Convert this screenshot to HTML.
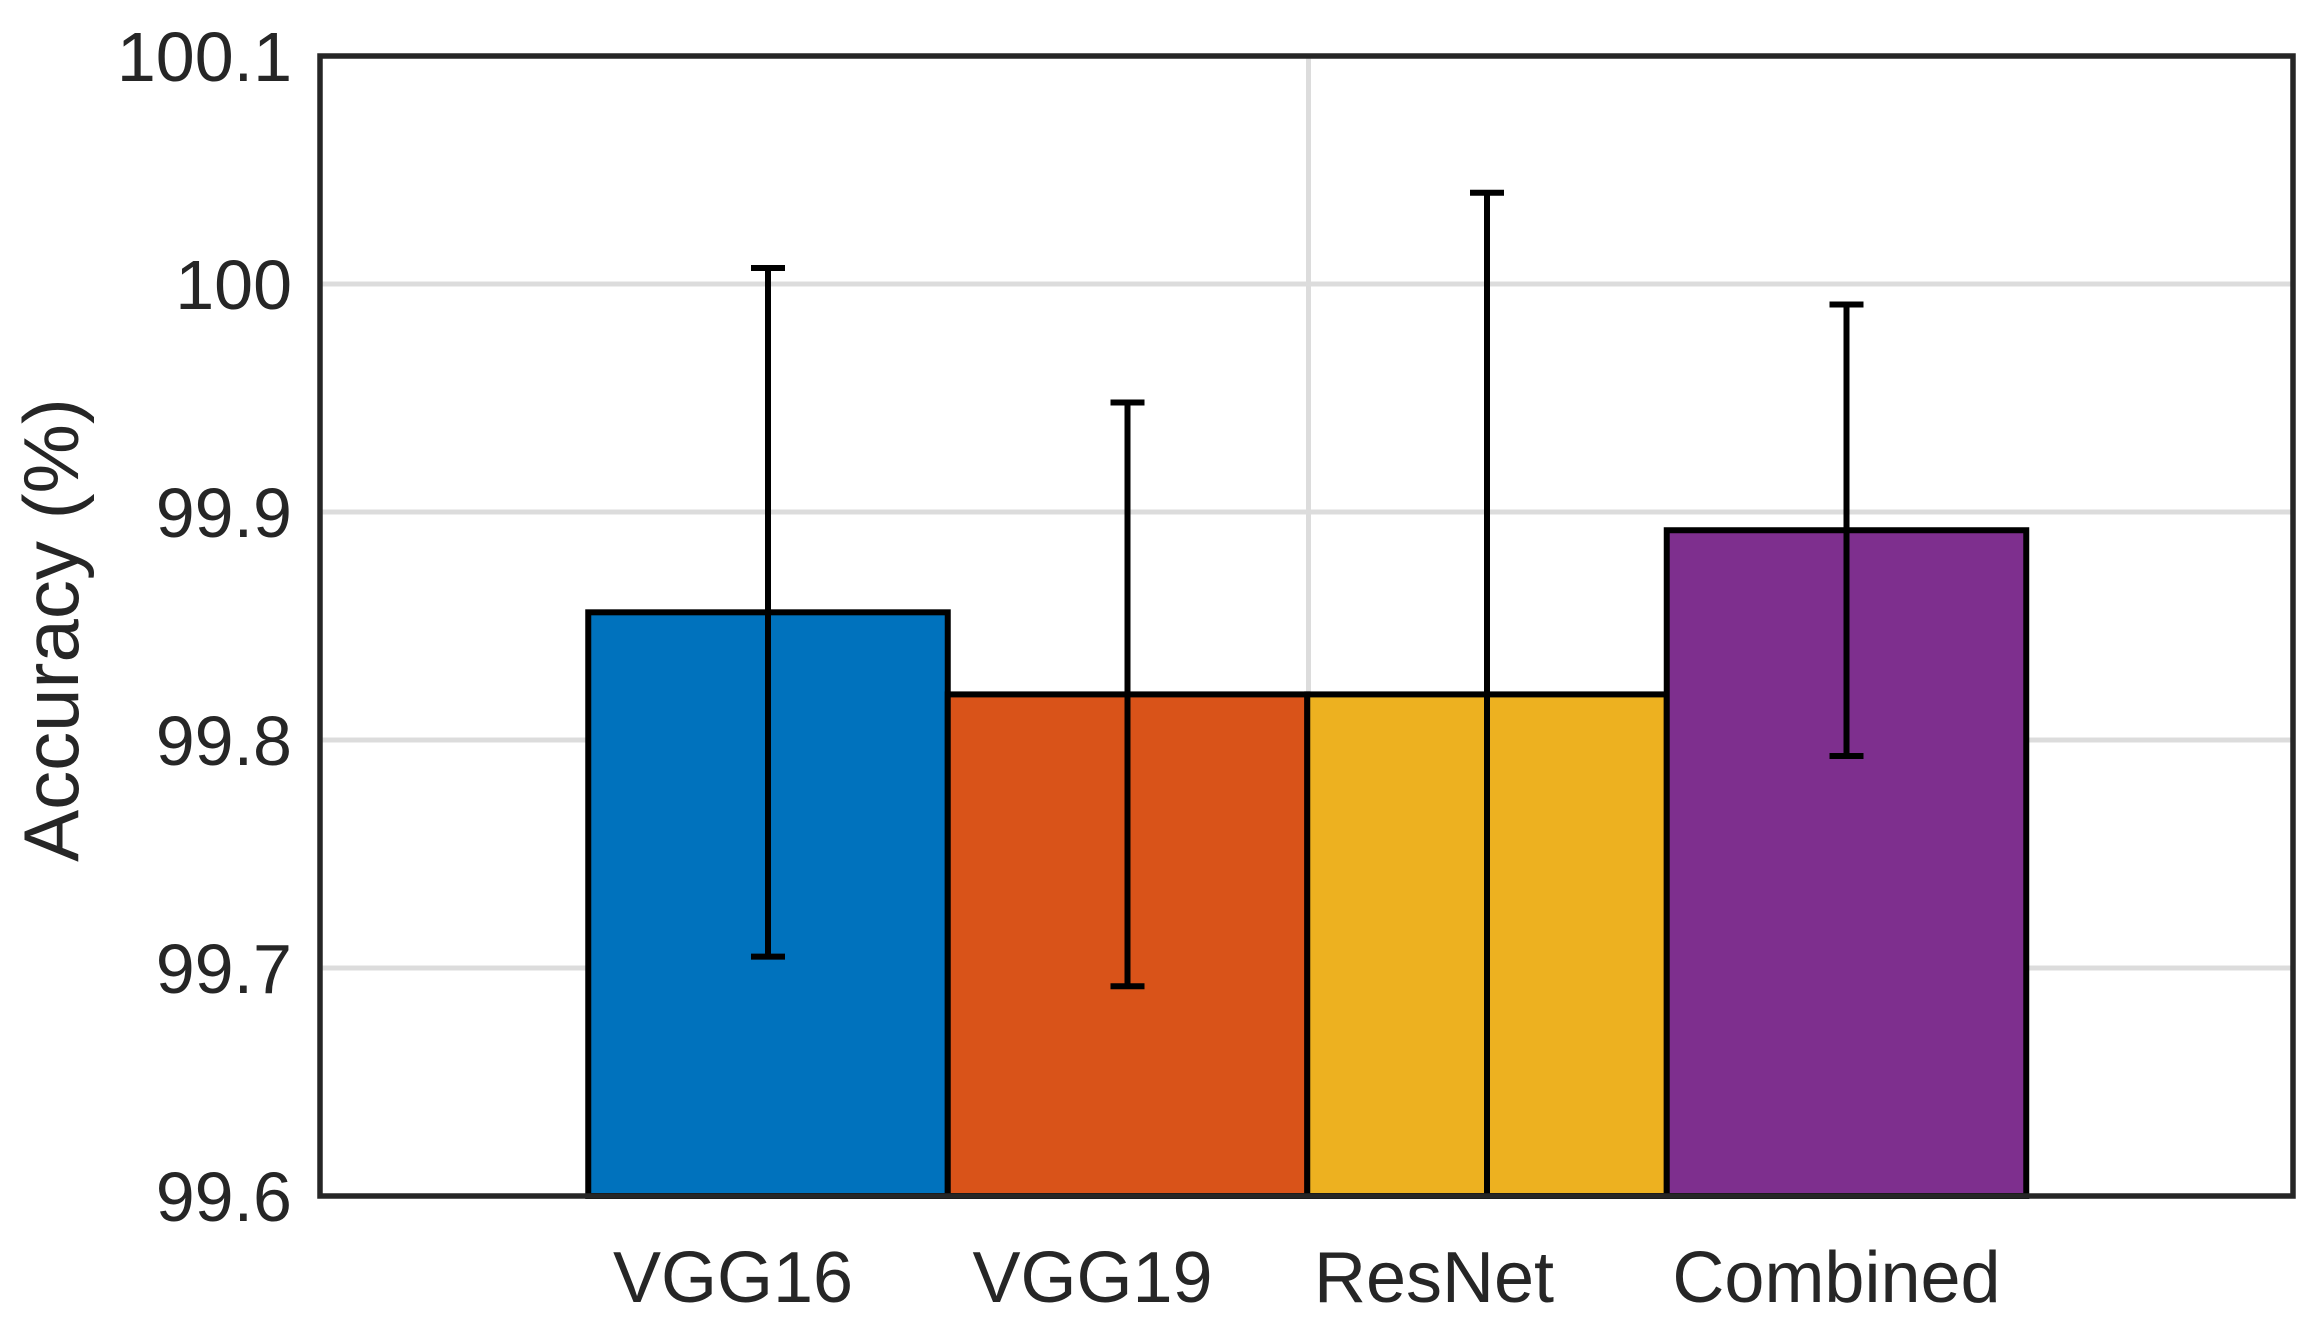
<!DOCTYPE html>
<html><head><meta charset="utf-8"><style>
html,body{margin:0;padding:0;background:#fff;}
svg{display:block;font-family:"Liberation Sans",Arial,sans-serif;}
</style></head><body>
<svg id="chart" width="2315" height="1335" viewBox="0 0 2315 1335" xmlns="http://www.w3.org/2000/svg"></svg>
<script>
const categories = ["VGG16","VGG19","ResNet","Combined"];
const values = [99.856, 99.820, 99.820, 99.892];
const errors = [0.151, 0.128, 0.220, 0.099];
const colors = ["#0072bd","#d95319","#edb120","#7e2f8e"];
const yTicks = [99.6, 99.7, 99.8, 99.9, 100, 100.1];
const yTickLabels = ["99.6","99.7","99.8","99.9","100","100.1"];

const NS = "http://www.w3.org/2000/svg";
const svg = document.getElementById("chart");
const L = 320, R = 2293, T = 56, B = 1196;
const yMin = 99.6, yMax = 100.1;
const y = v => B - (v - yMin) / (yMax - yMin) * (B - T);
const step = 359.5;
const x = i => 768 + (i - 0) * step;
const barW = step;
const labelShift = [-35, -35, -53, -10];

function el(tag, attrs, parent) {
  const e = document.createElementNS(NS, tag);
  for (const k in attrs) e.setAttribute(k, attrs[k]);
  (parent || svg).appendChild(e);
  return e;
}

const grid = el("g", {});


yTicks.forEach(t => {
  const g = el("line", {x1: L, x2: R, y1: y(t), y2: y(t), stroke: "#dcdcdc", "stroke-width": 5}, grid);
  
  
});
const vg = el("line", {x1: (L+R)/2+2, x2: (L+R)/2+2, y1: T, y2: B, stroke: "#dcdcdc", "stroke-width": 5}, grid);



categories.forEach((c, i) => {
  const top = y(values[i]);
  const r = el("rect", {x: x(i) - barW/2, y: top, width: barW, height: B - top, fill: colors[i], stroke: "#000", "stroke-width": 6});
  
  
});
categories.forEach((c, i) => {
  const g = el("g", {stroke: "#000", "stroke-width": 6});
  
  
  const hi = y(values[i] + errors[i]), lo = Math.min(y(values[i] - errors[i]), B);
  const cx = x(i);
  el("line", {x1: cx, x2: cx, y1: hi, y2: lo}, g);
  el("line", {x1: cx-17, x2: cx+17, y1: hi, y2: hi}, g);
  if (y(values[i] - errors[i]) < B) el("line", {x1: cx-17, x2: cx+17, y1: lo, y2: lo}, g);
});

const frame = el("rect", {x: L, y: T, width: R-L, height: B-T, fill: "none", stroke: "#262626", "stroke-width": 5.5});



yTicks.forEach((t, i) => {
  const tx = el("text", {x: 292, y: y(t) + 25, "text-anchor": "end", "font-size": 70, fill: "#262626"});
  tx.textContent = yTickLabels[i];
  
  
});
categories.forEach((c, i) => {
  const tx = el("text", {x: x(i) + labelShift[i], y: 1302, "text-anchor": "middle", "font-size": 72, fill: "#262626"});
  tx.textContent = c;
  
  
});
const yt = el("text", {x: 0, y: 0, "text-anchor": "middle", "font-size": 78, fill: "#262626", transform: "translate(78,630) rotate(-90)"});
yt.textContent = "Accuracy (%)";


</script>
</body></html>
